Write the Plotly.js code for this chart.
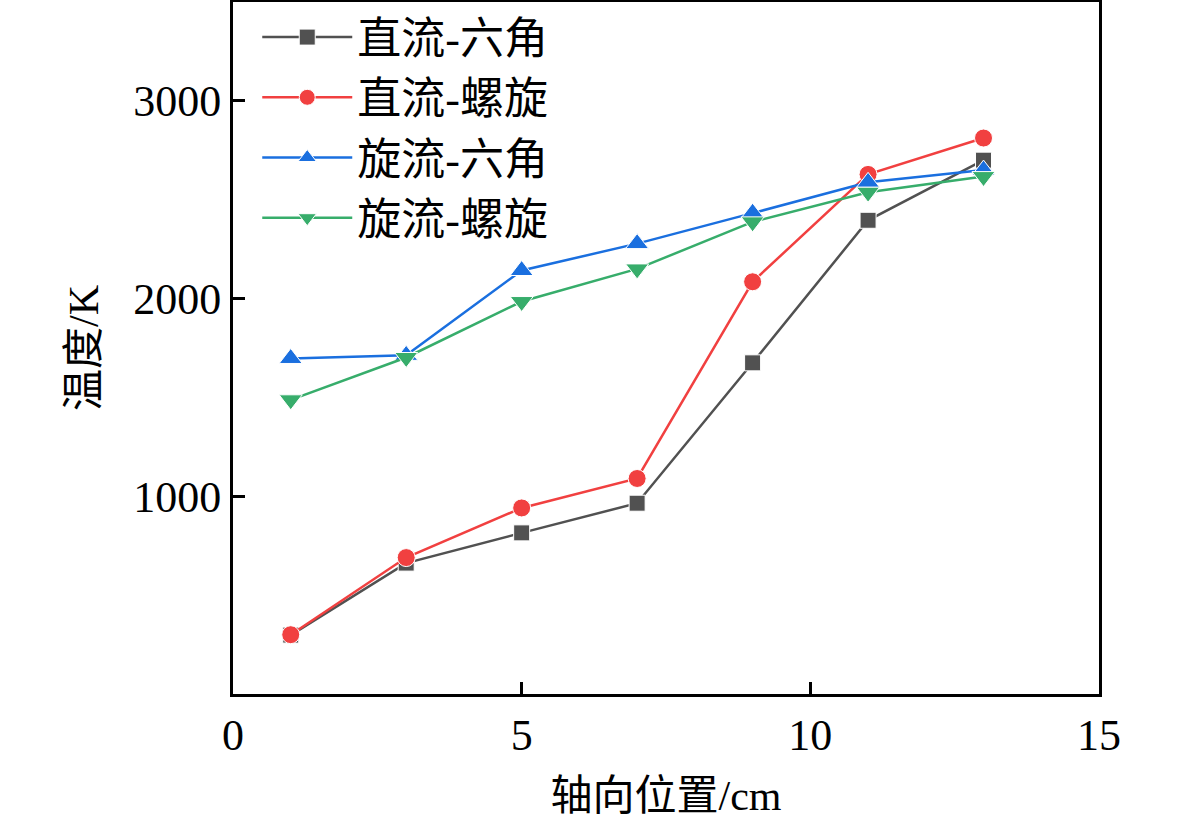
<!DOCTYPE html>
<html>
<head>
<meta charset="utf-8">
<script src="https://cdn.plot.ly/plotly-3.0.1.min.js"></script>
<style>
  html, body { margin: 0; padding: 0; background: #fff; }
  #chart { width: 1181px; height: 822px; }
</style>
</head>
<body>
<div id="chart"></div>
<script>
// axial position, cm
const axialPos = [1, 3, 5, 7, 9, 11, 13];

// temperature, K
const zlHex    = [298, 662, 815, 965, 1675, 2396, 2700];   // 直流-六角
const zlSpiral = [300, 690, 941, 1090, 2085, 2628, 2812];  // 直流-螺旋
const xlHex    = [1697, 1713, 2142, 2278, 2432, 2588, 2650]; // 旋流-六角
const xlSpiral = [1488, 1702, 1985, 2150, 2388, 2538, 2617]; // 旋流-螺旋

const names = ['直流-六角', '直流-螺旋', '旋流-六角', '旋流-螺旋'];
const yTicks = [1000, 2000, 3000];
const xTicks = [0, 5, 10, 15];

const FONT = 'Liberation Serif, "Times New Roman", "Noto Sans CJK SC", serif';

function series(y, name, color, symbol, size) {
  return {
    x: axialPos,
    y: y,
    name: name,
    mode: 'lines+markers',
    line: { color: color, width: 2.5 },
    marker: { symbol: symbol, size: size, color: color, line: { color: '#fff', width: 1 } }
  };
}

const data = [
  series(zlHex, names[0], '#515151', 'square', 16),
  series(zlSpiral, names[1], '#F14040', 'circle', 18),
  series(xlHex, names[2], '#1A6FDF', 'triangle-up', 20),
  series(xlSpiral, names[3], '#37AD6B', 'triangle-down', 20)
];

const layout = {
  width: 1181,
  height: 822,
  margin: { l: 233, r: 82, t: 2, b: 128 },
  paper_bgcolor: '#fff',
  plot_bgcolor: '#fff',
  font: { family: FONT, size: 44, color: '#000' },
  showlegend: true,
  legend: {
    x: 0.028, y: 1.0, xanchor: 'left', yanchor: 'top',
    bgcolor: 'rgba(0,0,0,0)',
    font: { family: FONT, size: 44 },
    itemwidth: 90,
    tracegroupgap: 0
  },
  xaxis: {
    range: [0, 15],
    tickvals: xTicks,
    ticks: 'inside', ticklen: 12, tickwidth: 3, tickcolor: '#000',
    showline: true, linecolor: '#000', linewidth: 3, mirror: true,
    showgrid: false, zeroline: false,
    title: { text: '轴向位置/cm', font: { family: FONT, size: 42 }, standoff: 22 }
  },
  yaxis: {
    range: [0, 3500],
    tickvals: yTicks,
    ticks: 'inside', ticklen: 12, tickwidth: 3, tickcolor: '#000',
    showline: true, linecolor: '#000', linewidth: 3, mirror: true,
    showgrid: false, zeroline: false,
    title: { text: '温度/K', font: { family: FONT, size: 42 }, standoff: 22 }
  }
};

Plotly.newPlot('chart', data, layout, { displayModeBar: false, staticPlot: true });
</script>
</body>
</html>
